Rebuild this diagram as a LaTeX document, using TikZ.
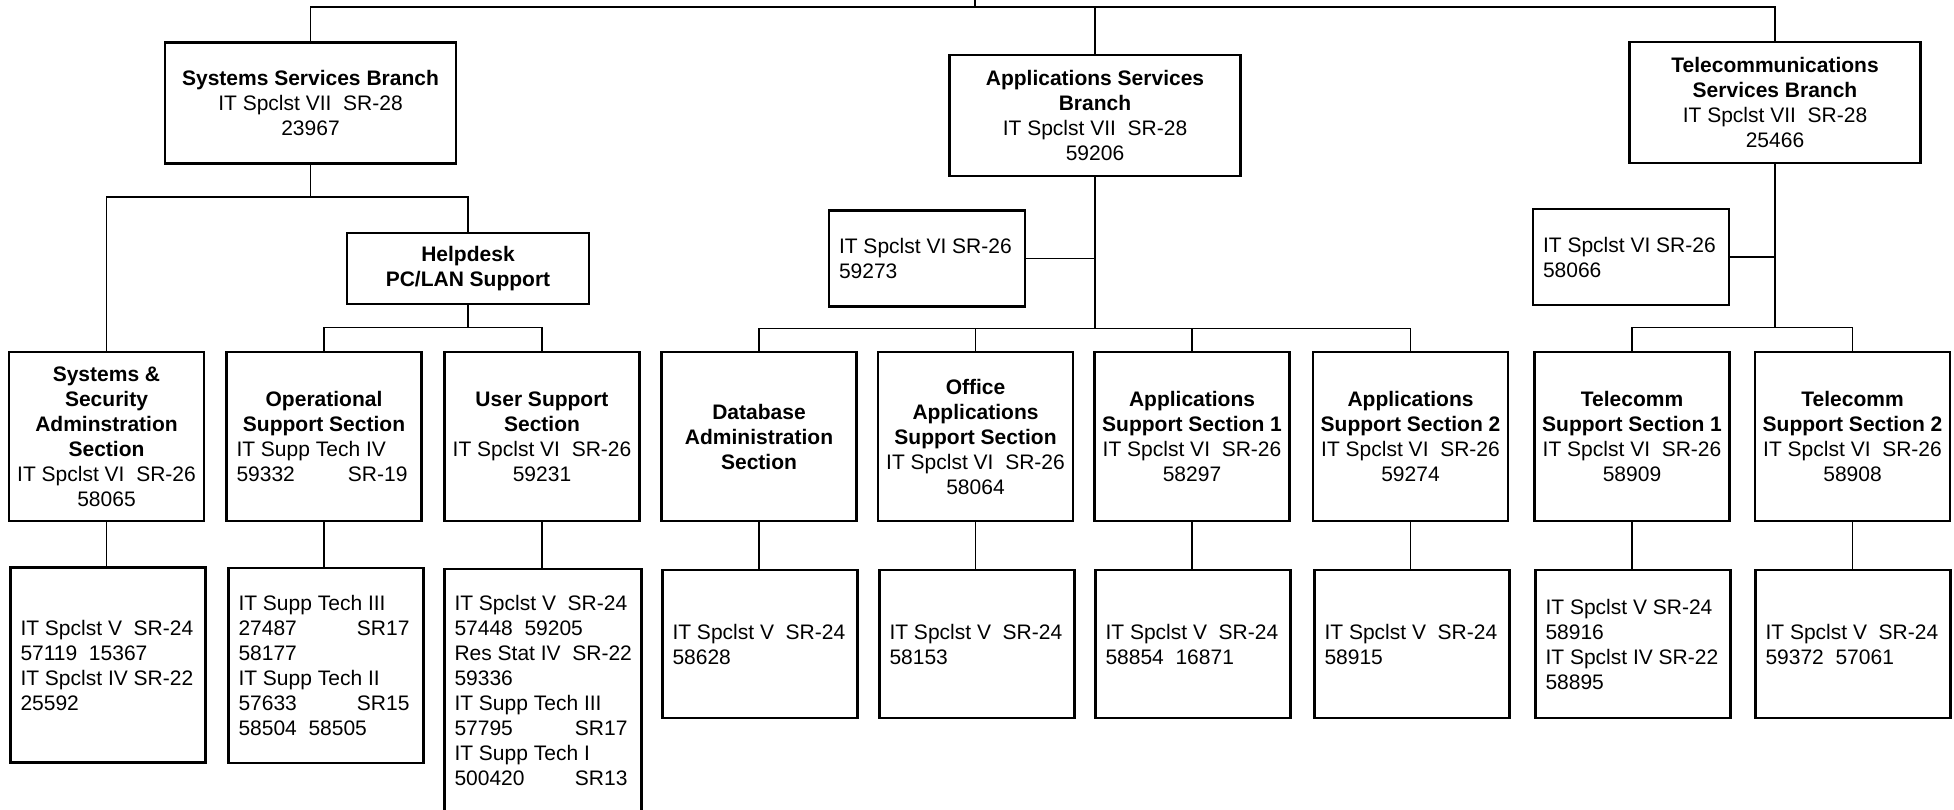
\documentclass[tikz,border=0pt]{standalone}
\usepackage{fontspec}
\setmainfont{Liberation Sans}
% one line of a box, centred / flush left / with a right-hand grade;
% the lines are stacked in a \vbox, one under the other
\newcommand{\ctrline}[1]{\hbox to\hsize{\hss#1\hss}}
\newcommand{\lftline}[1]{\hbox to\hsize{#1\hss}}
\newcommand{\tabline}[2]{\hbox to\hsize{#1\hfill#2\hspace*{4pt}}}
\newcommand{\hdline}[1]{\ctrline{\bfseries #1}}
\newcommand{\stack}[1]{\vbox{#1}}
\begin{document}
\begin{tikzpicture}[x=1pt,y=-1pt,
  every node/.style={font=\fontsize{21}{25}\selectfont},
  tw/.style={execute at begin node={\hsize=#1\relax}},
  box/.style={draw, rectangle, line width=2.3pt, inner xsep=10pt, inner ysep=0pt},
  branch/.style={box, minimum width=291pt, tw=271pt, minimum height=121pt},
  desk/.style={box, minimum width=242pt, tw=222pt, minimum height=71pt},
  staff/.style={box, minimum width=196pt, tw=176pt, minimum height=96pt},
  sect/.style={box, minimum width=195pt, tw=175pt, minimum height=169pt},
  unittall/.style={box, minimum width=195pt, tw=175pt, minimum height=195pt},
  unitlong/.style={box, minimum width=197pt, tw=177pt, minimum height=243pt},
  unit/.style={box, minimum width=195pt, tw=175pt, minimum height=148pt},
  link/.style={line width=1.6pt}]
\useasboundingbox (0,0) rectangle (1954,809);
\fill[white] (0,0) rectangle (1954,809);

% ---- branches
\node[branch] (ssb) at (310.5,103) {\stack{\hdline{Systems Services Branch}\ctrline{IT Spclst VII\ \ SR-28}\ctrline{23967}}};
\node[branch] (app) at (1095,115.5) {\stack{\hdline{Applications Services}\hdline{Branch}\ctrline{IT Spclst VII\ \ SR-28}\ctrline{59206}}};
\node[branch] (tel) at (1775,102.5) {\stack{\hdline{Telecommunications}\hdline{Services Branch}\ctrline{IT Spclst VII\ \ SR-28}\ctrline{25466}}};

% ---- helpdesk and branch staff
\node[desk] (help) at (468,268.5) {\stack{\hdline{Helpdesk}\hdline{PC/LAN Support}}};
\node[staff] (asst) at (927,258.5) {\stack{\lftline{IT Spclst VI SR-26}\lftline{59273}}};
\node[staff] (tast) at (1631,257) {\stack{\lftline{IT Spclst VI SR-26}\lftline{58066}}};

% ---- sections
\node[sect] (ss) at (106.5,436.5) {\stack{\hdline{Systems \&}\hdline{Security}\hdline{Adminstration}\hdline{Section}\ctrline{IT Spclst VI\ \ SR-26}\ctrline{58065}}};
\node[sect] (op) at (324,436.5) {\stack{\hdline{Operational}\hdline{Support Section}\lftline{IT Supp Tech IV}\tabline{59332}{SR-19}}};
\node[sect] (us) at (542,436.5) {\stack{\hdline{User Support}\hdline{Section}\ctrline{IT Spclst VI\ \ SR-26}\ctrline{59231}}};
\node[sect] (db) at (759,436.5) {\stack{\hdline{Database}\hdline{Administration}\hdline{Section}}};
\node[sect] (off) at (975.5,436.5) {\stack{\hdline{Office}\hdline{Applications}\hdline{Support Section}\ctrline{IT Spclst VI\ \ SR-26}\ctrline{58064}}};
\node[sect] (as1) at (1192,436.5) {\stack{\hdline{Applications}\hdline{Support Section 1}\ctrline{IT Spclst VI\ \ SR-26}\ctrline{58297}}};
\node[sect] (as2) at (1410.5,436.5) {\stack{\hdline{Applications}\hdline{Support Section 2}\ctrline{IT Spclst VI\ \ SR-26}\ctrline{59274}}};
\node[sect] (ts1) at (1632,436.5) {\stack{\hdline{Telecomm}\hdline{Support Section 1}\ctrline{IT Spclst VI\ \ SR-26}\ctrline{58909}}};
\node[sect] (ts2) at (1852.5,436.5) {\stack{\hdline{Telecomm}\hdline{Support Section 2}\ctrline{IT Spclst VI\ \ SR-26}\ctrline{58908}}};

% ---- staff of each section
\node[unittall] (ss3) at (108,665) {\stack{\lftline{IT Spclst V\ \ SR-24}\lftline{57119\ \ 15367}\lftline{IT Spclst IV SR-22}\lftline{25592}}};
\node[unittall] (op3) at (326,665.5) {\stack{\lftline{IT Supp Tech III}\tabline{27487}{SR17}\lftline{58177}\lftline{IT Supp Tech II}\tabline{57633}{SR15}\lftline{58504\ \ 58505}}};
\node[unitlong] (us3) at (543,690.5) {\stack{\lftline{IT Spclst V\ \ SR-24}\lftline{57448\ \ 59205}\lftline{Res Stat IV\ \ SR-22}\lftline{59336}\lftline{IT Supp Tech III}\tabline{57795}{SR17}\lftline{IT Supp Tech I}\tabline{500420}{SR13}}};
\node[unit] (db3) at (760,644) {\stack{\lftline{IT Spclst V\ \ SR-24}\lftline{58628}}};
\node[unit] (off3) at (977,644) {\stack{\lftline{IT Spclst V\ \ SR-24}\lftline{58153}}};
\node[unit] (as13) at (1193,644) {\stack{\lftline{IT Spclst V\ \ SR-24}\lftline{58854\ \ 16871}}};
\node[unit] (as23) at (1412,644) {\stack{\lftline{IT Spclst V\ \ SR-24}\lftline{58915}}};
\node[unit] (ts13) at (1633,644) {\stack{\lftline{IT Spclst V SR-24}\lftline{58916}\lftline{IT Spclst IV SR-22}\lftline{58895}}};
\node[unit] (ts23) at (1853,644) {\stack{\lftline{IT Spclst V\ \ SR-24}\lftline{59372\ \ 57061}}};

% ---- connectors
\coordinate (topbus) at (975,7);
\coordinate (root) at (975,-3);
\draw[link] (topbus) -- (root);
\draw[link] (ssb.north) |- (tel.north |- topbus) -- (tel.north);
\draw[link] (app.north) -- (app.north |- topbus);

\coordinate (sbus) at (311,197);
\draw[link] (ssb.south) -- (ssb.south |- sbus);
\draw[link] (ss.north) |- (help.north |- sbus) -- (help.north);

\coordinate (hbus) at (468,327.5);
\draw[link] (help.south) -- (help.south |- hbus);
\draw[link] (op.north) |- (us.north |- hbus) -- (us.north);

\coordinate (abus) at (1095,328.5);
\draw[link] (app.south) -- (app.south |- abus);
\draw[link] (db.north) |- (as2.north |- abus) -- (as2.north);
\draw[link] (off.north) -- (off.north |- abus);
\draw[link] (as1.north) -- (as1.north |- abus);
\draw[link] (asst.east) -- (asst.east -| app.south);

\coordinate (tbus) at (1775,327.5);
\draw[link] (tel.south) -- (tel.south |- tbus);
\draw[link] (ts1.north) |- (ts2.north |- tbus) -- (ts2.north);
\draw[link] (tast.east) -- (tast.east -| tel.south);

\foreach \a/\b in {ss/ss3, op/op3, us/us3, db/db3, off/off3, as1/as13, as2/as23, ts1/ts13, ts2/ts23}
  \draw[link] (\a.south) -- (\a.south |- \b.north);
\end{tikzpicture}
\end{document}
